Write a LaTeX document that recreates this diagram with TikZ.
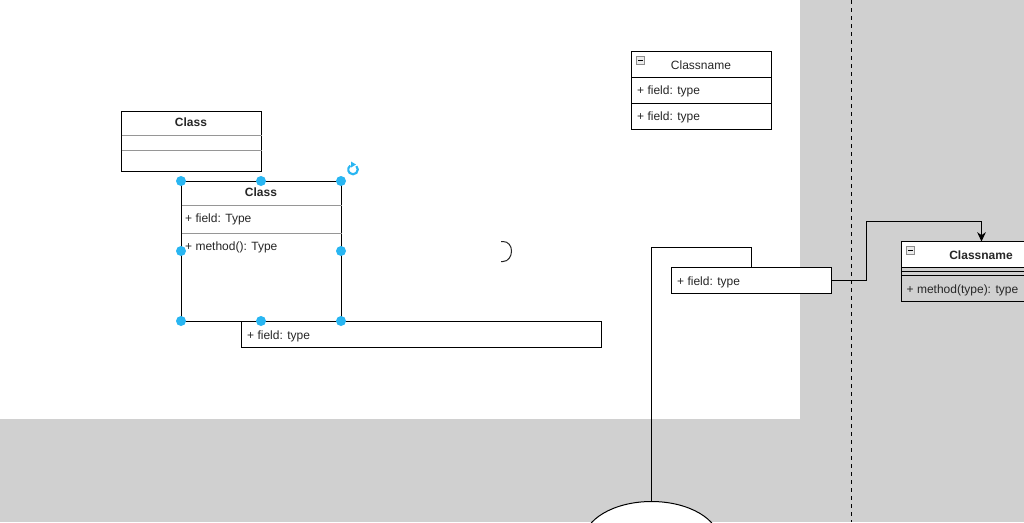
\documentclass[tikz,border=0pt]{standalone}
\usepackage{fontspec}
\setmainfont{Liberation Sans}
\usetikzlibrary{arrows.meta,positioning,calc,shapes.geometric}
\definecolor{canvasgray}{RGB}{208,208,208}
\definecolor{handleblue}{RGB}{41,182,242}
\definecolor{dividergray}{RGB}{150,150,150}
\tikzset{
  box/.style={draw=black, fill=white, line width=0.75pt, outer sep=0pt, inner sep=0pt, anchor=north west},
  divider/.style={draw=dividergray, line width=0.75pt},
  rule/.style={draw=black, line width=0.75pt},
  handle/.style={circle, fill=handleblue, minimum size=7.5pt, inner sep=0pt, outer sep=0pt, xshift=-0.375pt, yshift=0.375pt},
  link/.style={draw=black, line width=0.75pt},
  minusicon/.style={draw=black!45, fill=black!8, line width=0.5pt, minimum size=6pt, inner sep=0pt, outer sep=0pt, path picture={\draw[black, line width=0.75pt] ($(path picture bounding box.west)+(1pt,0)$) -- ($(path picture bounding box.east)+(-1pt,0)$);}},
  boldtext/.style={font=\fontsize{9pt}{11pt}\selectfont\bfseries}
}
\begin{document}
\begin{tikzpicture}[x=0.75pt, y=-0.75pt, every node/.style={font=\fontsize{9pt}{11pt}\selectfont, text=black!85}]
  \useasboundingbox (0,0) rectangle (1024,522);
  \clip (0,0) rectangle (1024,522);
  \fill[canvasgray] (0,0) rectangle (1024,522);
  \fill[white] (0,0) rectangle (800,419);
  \coordinate (laneTop) at (851.5,0);
  \coordinate (laneBottom) at (851.5,522);
  \draw[black, line width=0.75pt, dashed] (laneTop) -- (laneBottom);

  % plain class
  \node[box, minimum width=105pt, minimum height=45pt] (classA) at (121.5,111.5) {};
  \node[boldtext] (classAtitle) at (191,122.5) {Class};
  \draw[divider] (121.5,135.5) -- (261.5,135.5);
  \draw[divider] (121.5,150.5) -- (261.5,150.5);

  % selected class
  \node[box, fill=none, minimum width=120pt, minimum height=105pt] (classB) at (181.5,181.5) {};
  \node[boldtext] (classBtitle) at (261,192.5) {Class};
  \node[anchor=west] (classBfield) at (180.5,219.5) {+ field: Type};
  \node[anchor=west] (classBmethod) at (180.5,247.5) {+ method(): Type};
  \draw[divider] (181.5,205.5) -- (341.5,205.5);
  \draw[divider] (181.5,233.5) -- (341.5,233.5);

  % field on its own
  \node[box, minimum width=270pt, minimum height=19.5pt] (fieldA) at (241.5,321.5) {};
  \node[anchor=west] (fieldAtext) at (242.5,336) {+ field: type};

  % handles
  \foreach \hname/\hpos in {nw/north west, n/north, ne/north east, w/west, e/east, sw/south west, s/south, se/south east}
    \node[handle] (handle\hname) at (classB.\hpos) {};
  \draw[handleblue, line width=1.6pt] (356.4,166.1) arc[start angle=45, delta angle=-280, radius=3.6pt];
  \fill[handleblue] (351,161.5) -- (351,167.5) -- (356,164.5) -- cycle;

  % half round shape
  \draw[black!85, line width=0.75pt] (501,241.5) -- (503,241.5) .. controls (508.5,241.5) and (511.5,246) .. (511.5,251) .. controls (511.5,256) and (508.5,261.5) .. (503,261.5) -- (501,261.5);

  % collapsible class, top
  \node[box, minimum width=105pt, minimum height=58.5pt] (classC) at (631.5,51.5) {};
  \node (classCtitle) at (701,65.5) {Classname};
  \node[anchor=west] (classCfieldA) at (632.5,91.5) {+ field: type};
  \node[anchor=west] (classCfieldB) at (632.5,117.5) {+ field: type};
  \draw[rule] (631.5,77.5) -- (771.5,77.5);
  \draw[rule] (631.5,103.5) -- (771.5,103.5);
  \node[minusicon] (classCicon) at (640.5,60.5) {};

  % field with links
  \node[box, minimum width=120pt, minimum height=19.5pt] (fieldB) at (671.5,267.5) {};
  \node[anchor=west] (fieldBtext) at (672.5,282) {+ field: type};

  % class in the lane
  \node[box, fill=none, minimum width=120pt, minimum height=45pt] (classD) at (901.5,241.5) {};
  \fill[white] (classD.north west) rectangle (1061.5,267.5);
  \draw[rule] (classD.north west) -- (classD.north east);
  \draw[rule] (classD.north west) -- (901.5,267.5);
  \node[boldtext] (classDtitle) at (981,255.5) {Classname};
  \node[anchor=west] (classDmethod) at (902,290) {+ method(type): type};
  \draw[rule] (901.5,267.5) -- (1061.5,267.5);
  \draw[rule] (901.5,271.5) -- (1061.5,271.5);
  \draw[rule] (901.5,275.5) -- (1061.5,275.5);
  \node[minusicon] (classDicon) at (910.5,250.5) {};

  % ellipse at the bottom
  \node[draw=black, fill=white, ellipse, line width=0.75pt, outer sep=0pt, inner sep=0pt, minimum width=102pt, minimum height=60pt] (ovalA) at (651.5,541.5) {};

  % links
  \coordinate (bendA) at (651.5,247.5);
  \coordinate (bendB) at (866.5,221.5);
  \draw[link] (fieldB.north) |- (bendA) -- (ovalA.north);
  \draw[link, -{Stealth[length=7pt,width=6.5pt]}] (fieldB.east) -| (bendB) -| (classD.north);
\end{tikzpicture}
\end{document}
